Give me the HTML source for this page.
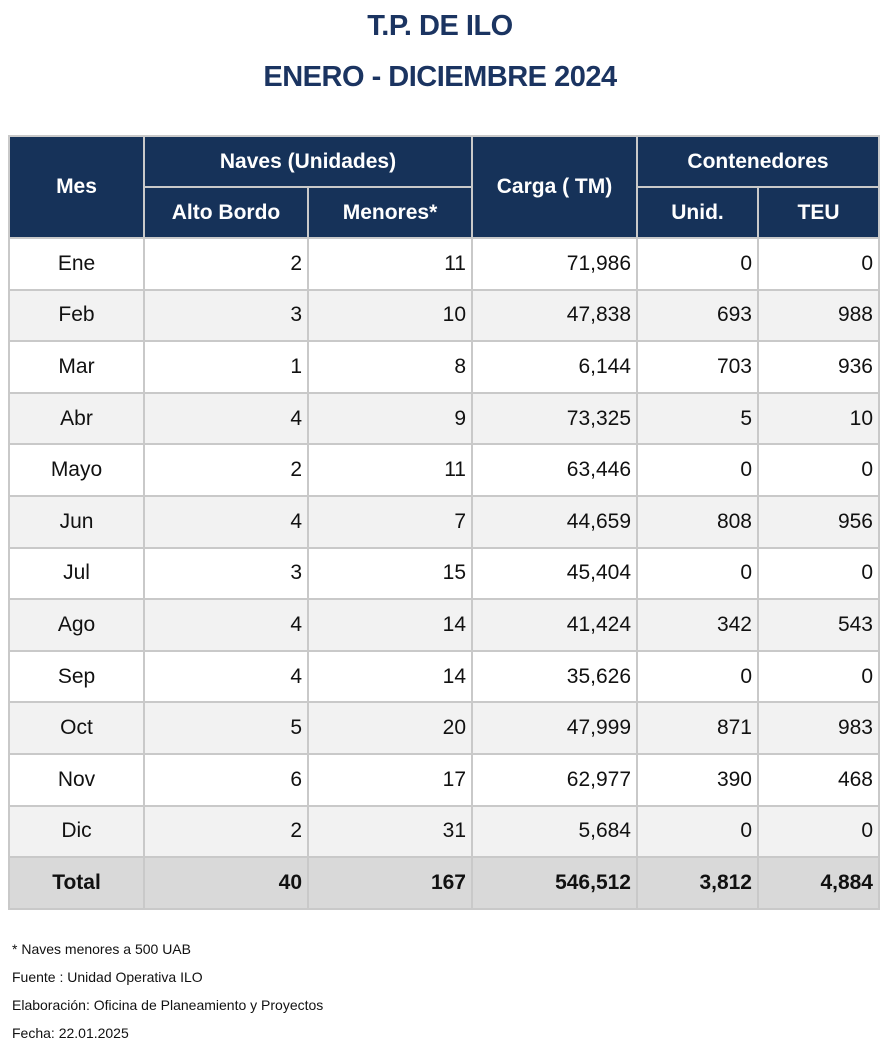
<!DOCTYPE html>
<html><head><meta charset="utf-8"><style>
body{margin:0;width:880px;height:1049px;background:#fff;font-family:"Liberation Sans",sans-serif;position:relative;overflow:hidden}
.t{position:absolute;left:0;width:880px;text-align:center;color:#1b3461;font-weight:bold;font-size:29px;letter-spacing:-0.5px}
table{position:absolute;left:8px;top:135px;border-collapse:collapse;table-layout:fixed}
td,th{border:2px solid #c9c9c9;padding:0 5px;font-size:21px;color:#111}
th{background:#163259;color:#fff;border-color:#c9c9c9;font-weight:bold;text-align:center}
td{text-align:right}
td.m{text-align:center}
tr.g td{background:#f2f2f2}
tr.tot td{background:#d9d9d9;font-weight:bold}
.f{position:absolute;left:12px;font-size:14px;color:#111}
</style></head><body>
<div class="t" style="top:10px">T.P. DE ILO</div>
<div class="t" style="top:61px">ENERO - DICIEMBRE 2024</div>
<table>
<colgroup><col style="width:135px"><col style="width:164px"><col style="width:164px"><col style="width:165px"><col style="width:121px"><col style="width:121px"></colgroup>
<thead>
<tr style="height:51px"><th rowspan="2">Mes</th><th colspan="2">Naves (Unidades)</th><th rowspan="2">Carga ( TM)</th><th colspan="2">Contenedores</th></tr>
<tr style="height:51px"><th>Alto Bordo</th><th>Menores*</th><th>Unid.</th><th>TEU</th></tr>
</thead>
<tbody id="tb"></tbody>
</table>
<div class="f" style="top:941px">* Naves menores a 500 UAB</div>
<div class="f" style="top:969px">Fuente : Unidad Operativa ILO</div>
<div class="f" style="top:997px">Elaboración: Oficina de Planeamiento y Proyectos</div>
<div class="f" style="top:1025px">Fecha: 22.01.2025</div>
<script>
const months=["Ene","Feb","Mar","Abr","Mayo","Jun","Jul","Ago","Sep","Oct","Nov","Dic"];
const altoBordo=[2,3,1,4,2,4,3,4,4,5,6,2];
const menores=[11,10,8,9,11,7,15,14,14,20,17,31];
const carga=[71986,47838,6144,73325,63446,44659,45404,41424,35626,47999,62977,5684];
const unid=[0,693,703,5,0,808,0,342,0,871,390,0];
const teu=[0,988,936,10,0,956,0,543,0,983,468,0];
const fmt=n=>n.toLocaleString('en-US');
const tb=document.getElementById('tb');
function addRow(cells,cls,name){
  const tr=document.createElement('tr');
  tr.style.height='51.6px';
  if(cls)tr.className=cls;
  
  
  cells.forEach((c,j)=>{
    const td=document.createElement('td');
    td.textContent=c;
    if(j===0)td.className='m';
    
    
    tr.appendChild(td);
  });
  tb.appendChild(tr);
}
const sum=a=>a.reduce((x,y)=>x+y,0);
months.forEach((m,i)=>addRow([m,altoBordo[i],menores[i],fmt(carga[i]),fmt(unid[i]),fmt(teu[i])],i%2?'g':'','row-'+m.toLowerCase()));
addRow(['Total',sum(altoBordo),sum(menores),fmt(sum(carga)),fmt(sum(unid)),fmt(sum(teu))],'tot','row-total');
</script>
</body></html>
